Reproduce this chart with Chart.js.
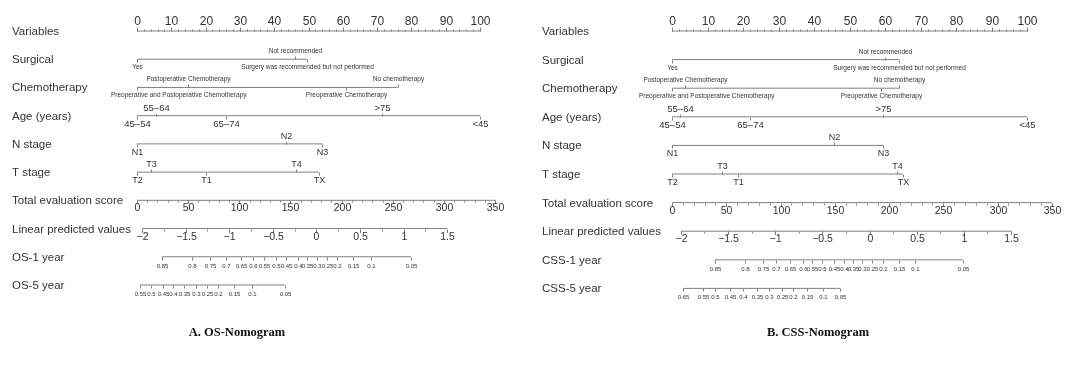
<!DOCTYPE html>
<html>
<head>
<meta charset="utf-8">
<script src="https://cdn.jsdelivr.net/npm/chart.js@4/dist/chart.umd.min.js"></script>
<style>
  body { margin: 0; background: #fff; }
  .panel { position: absolute; top: 0; height: 366px; }
</style>
</head>
<body>
<div class="panel" style="left:0;width:535px"><canvas id="osChart" width="535" height="366"></canvas></div>
<div class="panel" style="left:535px;width:536px"><canvas id="cssChart" width="536" height="366"></canvas></div>
<script>
// DATA
const rowNamesOS = ['Variables', 'Surgical', 'Chemotherapy', 'Age (years)', 'N stage', 'T stage',
  'Total evaluation score', 'Linear predicted values', 'OS-1 year', 'OS-5 year'];
const rowNamesCSS = ['Variables', 'Surgical', 'Chemotherapy', 'Age (years)', 'N stage', 'T stage',
  'Total evaluation score', 'Linear predicted values', 'CSS-1 year', 'CSS-5 year'];

const pointTicks = [0, 10, 20, 30, 40, 50, 60, 70, 80, 90, 100];
const totalTicks = [0, 50, 100, 150, 200, 250, 300, 350];
const lpTicks = [-2, -1.5, -1, -0.5, 0, 0.5, 1, 1.5];

const surgicalLevels = ['Yes', 'Surgery was recommended but not performed', 'Not recommended'];
const osSurgicalPts = [0, 49.5, 46];
const cssSurgicalPts = [0, 64, 60];

const chemoLevels = ['No chemotherapy', 'Preoperative Chemotherapy', 'Postoperative Chemotherapy',
  'Preoperative and Postoperative Chemotherapy'];
const osChemoPts = [76, 61, 15, 0];
const cssChemoPts = [64, 59, 3.8, 0];

const ageLevels = ['<45', '45\u201354', '55\u201364', '65\u201374', '>75'];
const osAgePts = [100, 0, 5.5, 26, 71.5];
const cssAgePts = [100, 0, 2.2, 22, 59.5];

const nLevels = ['N1', 'N2', 'N3'];
const osNPts = [0, 43.5, 54];
const cssNPts = [0, 45.5, 59.5];

const tLevels = ['T1', 'T2', 'T3', 'T4', 'TX'];
const osTPts = [20, 0, 4, 46.5, 53];
const cssTPts = [18.5, 0, 14, 63.5, 65];

// where the ends of the total score and linear predictor axes sit, in points
const osTotalSpan = [0, 104.4];
const cssTotalSpan = [0, 107];
const osLpSpan = [1.5, 90.4];
const cssLpSpan = [2.5, 95.5];

const os1Probs = [0.85, 0.8, 0.75, 0.7, 0.65, 0.6, 0.55, 0.5, 0.45, 0.4, 0.35, 0.3, 0.25, 0.2, 0.15, 0.1, 0.05];
const os1Pts = [7.3, 15.9, 21.4, 25.9, 30.3, 33.9, 37.1, 40.6, 43.5, 46.8, 49.5, 52.4, 55.4, 58.4, 63.0, 68.1, 79.9];
const os5Probs = [0.55, 0.5, 0.45, 0.4, 0.35, 0.3, 0.25, 0.2, 0.15, 0.1, 0.05];
const os5Pts = [0.9, 4.0, 7.5, 10.6, 13.7, 17.1, 20.5, 23.6, 28.2, 33.5, 43.1];

const css1Probs = [0.85, 0.8, 0.75, 0.7, 0.65, 0.6, 0.55, 0.5, 0.45, 0.4, 0.35, 0.3, 0.25, 0.2, 0.15, 0.1, 0.05];
const css1Pts = [12.1, 20.6, 25.5, 29.3, 33.3, 36.8, 39.5, 42.2, 45.5, 48.5, 50.9, 53.6, 56.3, 59.3, 63.9, 68.5, 82];
const css5Probs = [0.65, 0.55, 0.5, 0.45, 0.4, 0.35, 0.3, 0.25, 0.2, 0.15, 0.1, 0.05];
const css5Pts = [3.1, 8.7, 12.2, 16.3, 20.0, 23.9, 27.4, 31.0, 34.0, 38.0, 42.6, 47.3];

// LOOK
const TEXT = '#333';
const LINE = '#808080';
const SANS = '"Liberation Sans", Arial, sans-serif';
const factorFont = [6.5, 6.5, 9.5, 9, 9];

function fmt(v) {
  return String(v).replace('-', '\u2212');
}

function buildRows(p) {
  const rows = [];
  const minor = (from, to, step) => {
    const out = [];
    for (let k = 0; from + k * step <= to + 1e-9; k++) out.push(from + k * step);
    return out;
  };

  // points axis
  const top = [];
  minor(0, 100, 2).forEach(v => top.push({ pts: v, len: -2 }));
  pointTicks.forEach(v => top.push({ pts: v, len: -4, label: String(v), side: -1, font: 12, off: 10 }));
  rows.push({ ticks: top, lo: 0, hi: 100 });

  // factor rows
  p.factors.forEach((pts, fi) => {
    const levels = p.levels[fi];
    const order = pts.map((v, k) => k).sort((a, b) => pts[a] - pts[b]);
    const ticks = order.map((k, j) => {
      const side = j % 2 === 0 ? 1 : -1;
      return { pts: pts[k], len: 3 * side, label: levels[k], side, font: factorFont[fi], off: 8, clamp: true };
    });
    rows.push({ ticks, lo: Math.min(...pts), hi: Math.max(...pts) });
  });

  // total score
  const ts = p.totalSpan;
  const tp = v => ts[0] + v / 350 * (ts[1] - ts[0]);
  const tot = minor(0, 350, 10).map(v => ({ pts: tp(v), len: 2 }));
  totalTicks.forEach(v => tot.push({ pts: tp(v), len: 3.5, label: String(v), side: 1, font: 10.5, off: 8 }));
  rows.push({ ticks: tot, lo: ts[0], hi: ts[1] });

  // linear predictor
  const ls = p.lpSpan;
  const lpp = v => ls[0] + (v + 2) / 3.5 * (ls[1] - ls[0]);
  const lp = minor(-2, 1.5, 0.25).map(v => ({ pts: lpp(v), len: 2 }));
  lpTicks.forEach(v => lp.push({ pts: lpp(v), len: 3.5, label: fmt(v), side: 1, font: 10.5, off: 8 }));
  rows.push({ ticks: lp, lo: ls[0], hi: ls[1] });

  // survival probabilities
  [p.prob1, p.prob5].forEach(([probs, pts]) => {
    const ticks = probs.map((v, k) => ({ pts: pts[k], len: 3, label: String(v), side: 1, font: 6, off: 9 }));
    rows.push({ ticks, lo: Math.min(...pts), hi: Math.max(...pts) });
  });
  return rows;
}

const nomogramPlugin = {
  id: 'nomogram',
  afterDatasetsDraw(chart, args, opts) {
    const { ctx } = chart;
    const x = chart.scales.x, y = chart.scales.y;
    ctx.save();
    ctx.strokeStyle = LINE;
    ctx.lineWidth = 1;
    ctx.fillStyle = TEXT;
    ctx.textBaseline = 'middle';
    opts.rows.forEach((row, i) => {
      const py = Math.round(y.getPixelForValue(i)) + 0.5;
      ctx.font = '11.5px ' + SANS;
      ctx.textAlign = 'left';
      ctx.fillText(opts.names[i], opts.nameX, py);
      row.ticks.forEach(t => {
        const px = Math.round(x.getPixelForValue(t.pts)) + 0.5;
        ctx.beginPath();
        ctx.moveTo(px, py);
        ctx.lineTo(px, py + t.len);
        ctx.stroke();
        if (t.label === undefined) return;
        ctx.font = t.font + 'px ' + SANS;
        let cx = px;
        const w = ctx.measureText(t.label).width;
        if (t.clamp && cx - w / 2 < opts.labelMinX) cx = opts.labelMinX + w / 2;
        ctx.textAlign = 'center';
        ctx.fillText(t.label, cx, py + t.side * t.off);
      });
    });
    ctx.font = 'bold 12.5px "Liberation Serif", "Times New Roman", serif';
    ctx.textAlign = 'center';
    ctx.fillStyle = '#111';
    ctx.fillText(opts.caption, opts.captionX, 333);
    ctx.restore();
  }
};

function makePanel(p) {
  const rows = buildRows(p);
  const ppp = (p.hundredPx - p.zeroPx) / 100;
  const datasets = rows.map((r, i) => ({
    data: [{ x: r.lo, y: i }, { x: r.hi, y: i }],
    showLine: true,
    borderColor: LINE,
    borderWidth: 1,
    pointRadius: 0
  }));
  return new Chart(document.getElementById(p.id), {
    type: 'scatter',
    data: { datasets },
    options: {
      responsive: false,
      animation: false,
      layout: { padding: 0 },
      scales: {
        x: { type: 'linear', display: false, min: -p.zeroPx / ppp, max: (p.width - p.zeroPx) / ppp },
        y: { type: 'linear', display: false, reverse: true,
             min: -p.rowTop / p.rowStep, max: (366 - p.rowTop) / p.rowStep }
      },
      plugins: {
        legend: { display: false },
        tooltip: { enabled: false },
        nomogram: { rows, names: p.names, nameX: p.nameX, labelMinX: p.labelMinX,
                    caption: p.caption, captionX: p.captionX }
      }
    },
    plugins: [nomogramPlugin]
  });
}

makePanel({
  id: 'osChart', names: rowNamesOS, width: 535, zeroPx: 137, hundredPx: 480, nameX: 12,
  rowTop: 31, rowStep: 28.22, labelMinX: 111,
  factors: [osSurgicalPts, osChemoPts, osAgePts, osNPts, osTPts],
  levels: [surgicalLevels, chemoLevels, ageLevels, nLevels, tLevels],
  totalSpan: osTotalSpan, lpSpan: osLpSpan,
  prob1: [os1Probs, os1Pts], prob5: [os5Probs, os5Pts],
  caption: 'A. OS-Nomogram', captionX: 237
});

makePanel({
  id: 'cssChart', names: rowNamesCSS, width: 536, zeroPx: 137, hundredPx: 492, nameX: 7,
  rowTop: 31, rowStep: 28.6, labelMinX: 104,
  factors: [cssSurgicalPts, cssChemoPts, cssAgePts, cssNPts, cssTPts],
  levels: [surgicalLevels, chemoLevels, ageLevels, nLevels, tLevels],
  totalSpan: cssTotalSpan, lpSpan: cssLpSpan,
  prob1: [css1Probs, css1Pts], prob5: [css5Probs, css5Pts],
  caption: 'B. CSS-Nomogram', captionX: 283
});
</script>
</body>
</html>
